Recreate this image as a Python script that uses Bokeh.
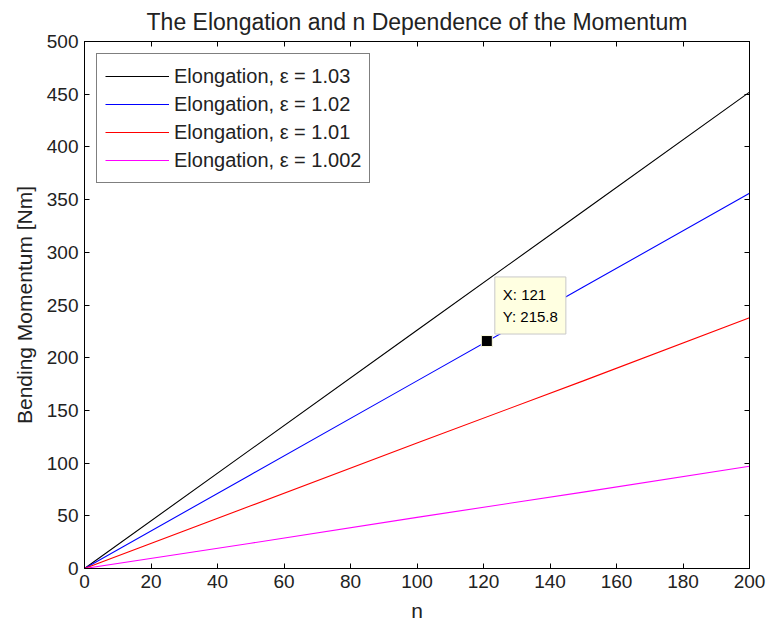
from bokeh.plotting import figure
from bokeh.models import LinearAxis, FixedTicker, Range1d, Legend, LegendItem, Label
from bokeh.embed import file_html
from bokeh.resources import INLINE

n = [0, 50, 100, 150, 200]
m_103 = [0, 113, 226, 339, 452]
m_102 = [0, 89, 178, 267, 356]
m_101 = [0, 59.5, 119, 178, 238]
m_1002 = [0, 24, 48.5, 72.5, 97]
labels = ["Elongation, \u03b5 = 1.03", "Elongation, \u03b5 = 1.02",
          "Elongation, \u03b5 = 1.01", "Elongation, \u03b5 = 1.002"]
colors = ["#000000", "#0000ff", "#ff0000", "#ff00ff"]
tip_x, tip_y = 121, 215.8
x_ticks = list(range(0, 201, 20))
y_ticks = list(range(0, 501, 50))

FONT = "Liberation Sans"
TXT = "#222222"

p = figure(width=766, height=625, output_backend="svg", toolbar_location=None,
           x_range=Range1d(0, 200), y_range=Range1d(0, 500),
           x_axis_location=None, y_axis_location=None,
           min_border_left=84, min_border_right=17, min_border_top=0, min_border_bottom=57)
p.title.text = "The Elongation and n Dependence of the Momentum"
p.title.align = "center"
p.title.text_font = FONT
p.title.text_font_size = "23px"
p.title.text_font_style = "normal"
p.title.text_color = TXT
p.title.standoff = 13
p.grid.visible = False
p.outline_line_color = "black"
p.outline_line_width = 1
p.background_fill_color = "white"
p.border_fill_color = "white"

renderers = []
for ys, c in zip([m_103, m_102, m_101, m_1002], colors):
    renderers.append(p.line(n, ys, line_color=c, line_width=1.1))

p.scatter([tip_x], [tip_y], marker="square", size=11, fill_color="black",
          line_color="#ffffe1", line_width=1)


def make_axis(ticks, show_labels, label=None):
    ax = LinearAxis(ticker=FixedTicker(ticks=ticks))
    ax.major_tick_in = 5
    ax.major_tick_out = 0
    ax.minor_tick_line_color = None
    ax.axis_line_color = "black"
    ax.major_tick_line_color = "black"
    ax.major_label_text_font = FONT
    if show_labels:
        ax.major_label_text_font_size = "19px"
        ax.major_label_text_color = TXT
        ax.major_label_standoff = 6
    else:
        ax.major_label_text_font_size = "0px"
        ax.major_label_text_color = None
        ax.major_label_standoff = 0
    if label is not None:
        ax.axis_label = label
        ax.axis_label_text_font = FONT
        ax.axis_label_text_font_size = "21px"
        ax.axis_label_text_font_style = "normal"
        ax.axis_label_text_color = TXT
        ax.axis_label_standoff = 8
    return ax


p.add_layout(make_axis(x_ticks, True, "n"), "below")
p.add_layout(make_axis(y_ticks, True, "Bending Momentum [Nm]"), "left")
p.add_layout(make_axis(x_ticks, False), "above")
p.add_layout(make_axis(y_ticks, False), "right")

legend = Legend(items=[LegendItem(label=l, renderers=[r]) for l, r in zip(labels, renderers)],
                location="top_left", label_text_font=FONT, label_text_font_size="20px",
                label_text_color=TXT, border_line_color="black", border_line_width=1,
                glyph_width=64, glyph_height=28, label_height=28, label_standoff=5,
                spacing=0, padding=8, margin=12, background_fill_color="white",
                background_fill_alpha=1.0)
p.add_layout(legend, "center")

tip = Label(x=tip_x, y=tip_y, x_offset=8, y_offset=7, text="X: 121\nY: 215.8",
            text_font=FONT, text_font_size="15px", text_color="black",
            text_line_height=1.3,
            background_fill_color="#ffffe1", border_line_color="#c8c8c8",
            padding=dict(left=8, right=8, top=9, bottom=9))
p.add_layout(tip)

open("out.html", "w").write(file_html(p, INLINE))
